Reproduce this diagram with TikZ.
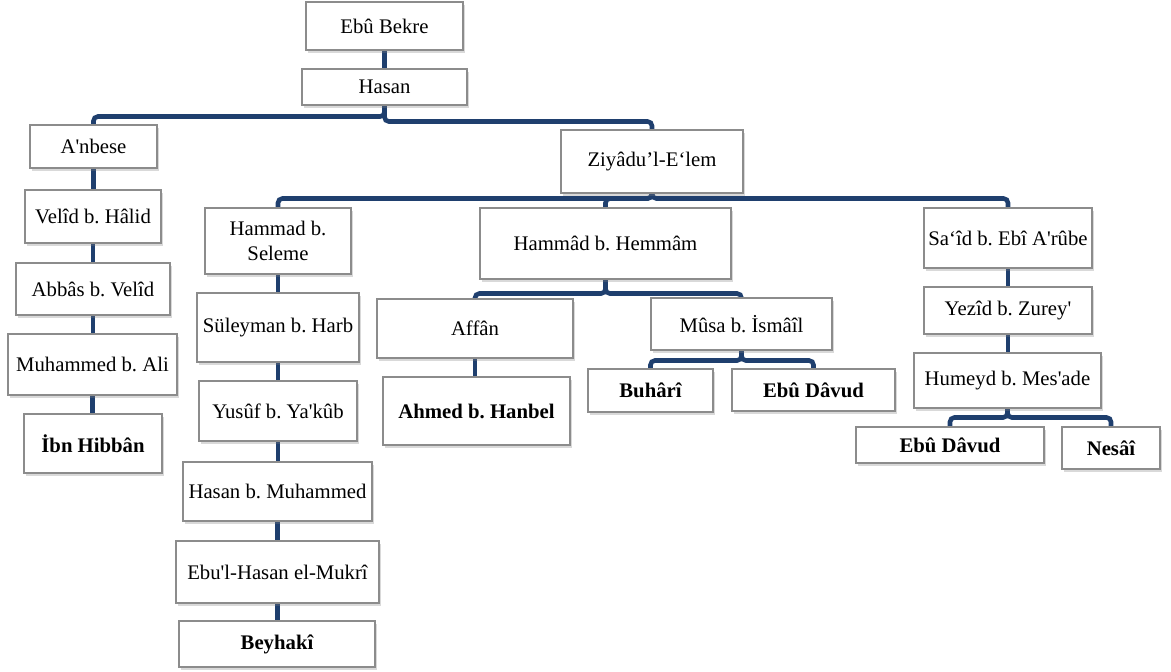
\documentclass[tikz,border=0pt]{standalone}
\usepackage{fontspec}
\setmainfont{Liberation Serif}
\usepackage{tikz}
\usetikzlibrary{shadows}
\pgfdeclarelayer{bg}
\pgfsetlayers{bg,main}
\definecolor{linkblue}{RGB}{31,63,110}
\definecolor{boxgray}{RGB}{140,140,140}
\newcommand{\ap}{\textquotesingle}
\frenchspacing
\tikzset{sz/.style n args={2}{minimum width=#1*.02cm, minimum height=#2*.02cm}}

\begin{document}
\begin{tikzpicture}[
			x = .02cm, y = -.02cm,
			every node/.style = {font=\fontsize{11.8}{14.5}\selectfont},
			box/.style = {draw=boxgray, fill=white, line width=.6pt, inner sep=0pt, align=center,
				drop shadow={shadow xshift=1pt, shadow yshift=-1.5pt, opacity=.3}},
			bold/.style = {font=\fontsize{11.8}{14.5}\selectfont\bfseries},
			link/.style = {linkblue, line width=2.6pt, rounded corners=2.5pt}
		]

			\useasboundingbox (0,0) rectangle (1171,672);

			% top
			\node[box,sz={157}{48}] (bekre) at (384.5,26) {Ebû Bekre};
			\node[box,sz={165}{36}] (hasan) at (384.5,87) {Hasan};

			% left column
			\node[box,sz={127}{43}] (anbese) at (93.5,146.5) {A\ap nbese};
			\node[box,sz={136}{53}] (velid) at (93,216.5) {Velîd b. Hâlid};
			\node[box,sz={154}{52}] (abbas) at (93,289) {Abbâs b. Velîd};
			\node[box,sz={169}{61}] (muhammed) at (92.5,364.5) {Muhammed b. Ali};
			\node[box,bold,sz={138}{59}] (hibban) at (93,443.5) {İbn Hibbân};

			\node[box,sz={182}{63}] (ziyad) at (652,161.5) {Ziyâdu’l-E‘lem};

			% Hammad b. Seleme column
			\node[box,sz={146}{66}] (seleme) at (278,241) {Hammad b.\\ Seleme};
			\node[box,sz={162}{69}] (suleyman) at (278,327.5) {Süleyman b. Harb};
			\node[box,sz={158}{60}] (yusuf) at (278,411) {Yusûf b. Ya\ap kûb};
			\node[box,sz={189}{59}] (hasanm) at (277.5,491.5) {Hasan b. Muhammed};
			\node[box,sz={203}{62}] (mukri) at (277.5,572) {Ebu\ap l-Hasan el-Mukrî};
			\node[box,bold,sz={196}{46}] (beyhaki) at (277,644) {Beyhakî};

			% Hammad b. Hemmam
			\node[box,sz={251}{71}] (hemmam) at (605.5,243.5) {Hammâd b. Hemmâm};
			\node[box,sz={196}{59}] (affan) at (475,328.5) {Affân};
			\node[box,bold,sz={187}{68}] (hanbel) at (476.5,411) {Ahmed b. Hanbel};
			\node[box,sz={181}{52}] (musa) at (741.5,324) {Mûsa b. İsmâîl};
			\node[box,bold,sz={125}{43}] (buhari) at (650.5,390.5) {Buhârî};
			\node[box,bold,sz={163}{42}] (davudA) at (813.5,390) {Ebû Dâvud};

			% Sa'id column
			\node[box,sz={168}{60}] (said) at (1008,238) {Sa‘îd b. Ebî A\ap rûbe};
			\node[box,sz={168}{47}] (yezid) at (1008,310.5) {Yezîd b. Zurey\ap};
			\node[box,sz={187}{55}] (humeyd) at (1007.5,380.5) {Humeyd b. Mes\ap ade};
			\node[box,bold,sz={188}{36}] (davudB) at (950,445) {Ebû Dâvud};
			\node[box,bold,sz={98}{42}] (nesai) at (1111,448) {Nesâî};

			\begin{pgfonlayer}{bg}
				\draw[link] (bekre) -- (hasan);
				\draw[link] (hasan.south) -- ++(0,11) -| (anbese.north);
				\draw[link] (hasan.south) -- ++(0,16) -| (ziyad.north);
				\foreach \c in {seleme,hemmam,said}
					\draw[link] (ziyad.south) -- ++(0,5) -| (\c.north);
				\foreach \c in {affan,musa}
					\draw[link] (hemmam.south) -- ++(0,14) -| (\c.north);
				\foreach \c in {buhari,davudA}
					\draw[link] (musa.south) -- ++(0,10) -| (\c.north);
				\foreach \c in {davudB,nesai}
					\draw[link] (humeyd.south) -- ++(0,9) -| (\c.north);
				\foreach \a/\b in {anbese/velid,velid/abbas,abbas/muhammed,muhammed/hibban,
						seleme/suleyman,suleyman/yusuf,yusuf/hasanm,hasanm/mukri,mukri/beyhaki,
						affan/hanbel,said/yezid,yezid/humeyd}
					\draw[link] (\a.south) -- (\a.south |- \b.north);
			\end{pgfonlayer}

		\end{tikzpicture}
\end{document}
